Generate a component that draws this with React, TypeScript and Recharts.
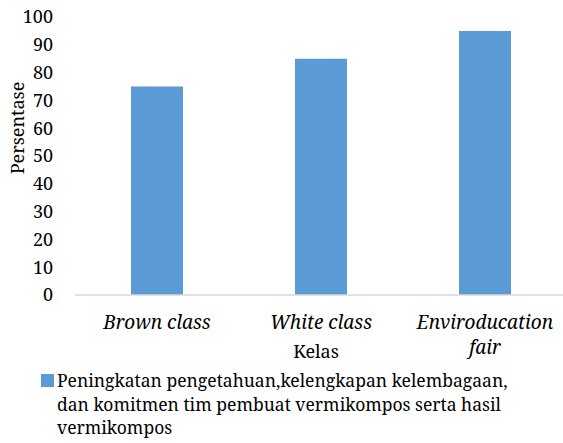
import React from 'react';
import { BarChart, Bar, XAxis, YAxis, Text } from 'recharts';

const FONT = '"Noto Serif", serif';
const FS = 18;

const categories = ['Brown class', 'White class', 'Enviroducation fair'];
const values = [75, 85, 95];
const yTicks = [0, 10, 20, 30, 40, 50, 60, 70, 80, 90, 100];
const legendLines = [
  'Peningkatan pengetahuan,kelengkapan kelembagaan,',
  'dan komitmen tim pembuat vermikompos serta hasil',
  'vermikompos',
];
const seriesName = legendLines.join(' ');
const yTitle = 'Persentase';
const xTitle = 'Kelas';
const barColor = '#5B9BD5';

const data = categories.map((c, i) => ({ name: c, value: values[i] }));

const XTick = (props: any) => {
  const { x, y, payload } = props;
  return (
    <Text
      x={x}
      y={y + 19}
      width={145}
      textAnchor="middle"
      verticalAnchor="start"
      lineHeight={25}
      fill="#000"
      style={{ fontFamily: FONT, fontSize: 19, fontStyle: 'italic' }}
    >
      {payload.value}
    </Text>
  );
};

const YTitle = () => (
  <text
    x={17}
    y={128}
    transform="rotate(-90, 17, 128)"
    textAnchor="middle"
    dominantBaseline="central"
    fill="#000"
    style={{ fontFamily: FONT, fontSize: FS }}
  >
    {yTitle}
  </text>
);

const XTitle = () => (
  <text
    x={316}
    y={351}
    textAnchor="middle"
    dominantBaseline="central"
    fill="#000"
    style={{ fontFamily: FONT, fontSize: FS }}
  >
    {xTitle}
  </text>
);

export default function App() {
  return (
    <div
      style={{
        position: 'absolute',
        left: 0,
        top: 0,
        width: 563,
        height: 443,
        overflow: 'hidden',
        background: '#fff',
      }}
    >
      <BarChart
        width={570}
        height={443}
        data={data}
        margin={{ top: 17, right: 3, bottom: 0, left: 0 }}
      >
        <XAxis
          dataKey="name"
          interval={0}
          tickLine={false}
          tickSize={0}
          axisLine={{ stroke: '#d9d9d9', strokeWidth: 1.5 }}
          height={148}
          tick={<XTick />}
          label={<XTitle />}
        />
        <YAxis
          domain={[0, 100]}
          ticks={yTicks}
          interval={0}
          axisLine={false}
          tickLine={false}
          tickSize={0}
          tickMargin={22}
          width={75}
          tick={{ fill: '#000', fontFamily: FONT, fontSize: FS }}
          label={<YTitle />}
        />
        <Bar
          dataKey="value"
          name={seriesName}
          fill={barColor}
          barSize={52}
          isAnimationActive={false}
        />
      </BarChart>
      <div
        style={{
          position: 'absolute',
          left: 41,
          top: 369,
          fontFamily: FONT,
          fontSize: 17.5,
          lineHeight: '23.5px',
          color: '#000',
        }}
      >
        <span
          style={{
            position: 'absolute',
            left: 0,
            top: 5,
            width: 13,
            height: 13,
            background: barColor,
          }}
        />
        <div style={{ marginLeft: 16, whiteSpace: 'nowrap' }}>
          {legendLines.map((l, i) => (
            <div key={i}>{l}</div>
          ))}
        </div>
      </div>
    </div>
  );
}
